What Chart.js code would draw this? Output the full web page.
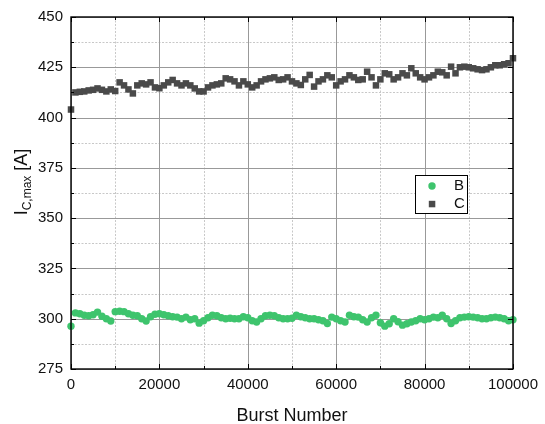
<!DOCTYPE html>
<html>
<head>
<meta charset="utf-8">
<script src="https://cdn.jsdelivr.net/npm/chart.js@4"></script>
<style>
  body { margin: 0; background: #fff; }
</style>
</head>
<body>
<canvas id="chart" width="545" height="424"></canvas>
<script>
// data
const burst = [
  0, 1000, 2000, 3000, 4000, 5000, 6000, 7000, 8000, 9000,
  10000, 11000, 12000, 13000, 14000, 15000, 16000, 17000, 18000, 19000,
  20000, 21000, 22000, 23000, 24000, 25000, 26000, 27000, 28000, 29000,
  30000, 31000, 32000, 33000, 34000, 35000, 36000, 37000, 38000, 39000,
  40000, 41000, 42000, 43000, 44000, 45000, 46000, 47000, 48000, 49000,
  50000, 51000, 52000, 53000, 54000, 55000, 56000, 57000, 58000, 59000,
  60000, 61000, 62000, 63000, 64000, 65000, 66000, 67000, 68000, 69000,
  70000, 71000, 72000, 73000, 74000, 75000, 76000, 77000, 78000, 79000,
  80000, 81000, 82000, 83000, 84000, 85000, 86000, 87000, 88000, 89000,
  90000, 91000, 92000, 93000, 94000, 95000, 96000, 97000, 98000, 99000,
  100000
];

const seriesB = [
  296.3, 302.9, 302.5, 301.7, 301.5, 302.0, 303.3, 301.2, 300.0, 298.9,
  303.5, 303.7, 303.5, 302.5, 301.7, 301.5, 300.0, 298.9, 301.0, 302.2,
  302.5, 302.0, 301.5, 301.0, 300.8, 300.0, 300.8, 299.5, 300.0, 297.8,
  299.0, 300.5, 301.7, 301.5, 300.5, 300.0, 300.2, 300.0, 300.0, 301.0,
  300.5, 299.0, 298.4, 300.0, 301.5, 301.7, 301.5, 300.5, 300.0, 300.0,
  300.2, 301.7, 301.0, 300.5, 300.0, 300.0, 299.5, 299.0, 297.6, 300.8,
  300.0, 299.0, 298.4, 301.7, 301.0, 300.8, 299.5, 298.4, 300.5, 301.7,
  298.0, 296.3, 297.5, 300.0, 298.5, 296.8, 297.5, 298.4, 299.0, 300.0,
  299.5, 300.0, 300.8, 300.5, 301.7, 300.0, 297.6, 299.0, 300.5, 300.8,
  301.0, 300.8, 300.5, 300.0, 300.0, 300.5, 300.8, 300.5, 300.0, 299.0,
  299.5
];

const seriesC = [
  404.0, 412.5, 412.8, 413.0, 413.5, 413.8, 414.5, 413.8, 413.0, 414.0,
  413.2, 417.5, 416.0, 414.0, 412.0, 416.0, 417.0, 416.5, 417.5, 415.0,
  414.6, 416.0, 417.5, 418.7, 417.0, 416.0, 417.0, 416.0, 414.5, 413.0,
  413.0, 415.0, 416.0, 416.5, 417.0, 419.5, 419.0, 418.0, 416.0, 418.0,
  416.5, 415.0, 416.0, 418.0, 419.0, 419.5, 420.0, 418.7, 419.0, 420.0,
  418.0, 417.0, 416.2, 419.0, 421.2, 415.4, 418.0, 419.0, 421.0, 420.0,
  416.0, 418.0, 419.0, 421.0, 420.0, 418.7, 419.0, 422.8, 420.0, 416.0,
  419.0, 422.0, 421.5, 419.0, 420.0, 422.0, 421.0, 424.5, 422.0, 420.0,
  419.0, 420.0, 421.0, 422.8, 422.5, 421.0, 425.3, 422.0, 425.0, 425.3,
  425.0, 424.5, 424.0, 423.6, 424.0, 425.0, 426.0, 426.0, 426.5, 427.0,
  429.5
];

const xTickLabels = [0, 20000, 40000, 60000, 80000, 100000];
const yTickLabels = [275, 300, 325, 350, 375, 400, 425, 450];
const seriesNames = ['B', 'C'];

const GREEN = '#3ec46d';
const DARK = '#4a4a4a';
const FONT = '"Liberation Sans", Arial, sans-serif';

// grid, frame, inward ticks, legend box and axis titles
const framePlugin = {
  id: 'frame',
  beforeDatasetsDraw(chart) {
    const { ctx, chartArea: a, scales: { x, y } } = chart;
    ctx.save();
    ctx.lineWidth = 1;
    // minor grid (dotted)
    ctx.strokeStyle = '#c8c8c8';
    ctx.setLineDash([2, 1.5]);
    x.ticks.forEach(t => {
      if (xTickLabels.includes(t.value)) return;
      const px = Math.round(x.getPixelForValue(t.value)) + 0.5;
      ctx.beginPath(); ctx.moveTo(px, a.top); ctx.lineTo(px, a.bottom); ctx.stroke();
    });
    y.ticks.forEach(t => {
      if (yTickLabels.includes(t.value)) return;
      const py = Math.round(y.getPixelForValue(t.value)) + 0.5;
      ctx.beginPath(); ctx.moveTo(a.left, py); ctx.lineTo(a.right, py); ctx.stroke();
    });
    // major grid (solid)
    ctx.setLineDash([]);
    ctx.strokeStyle = '#999';
    x.ticks.forEach(t => {
      if (!xTickLabels.includes(t.value)) return;
      const px = Math.round(x.getPixelForValue(t.value)) + 0.5;
      ctx.beginPath(); ctx.moveTo(px, a.top); ctx.lineTo(px, a.bottom); ctx.stroke();
    });
    y.ticks.forEach(t => {
      if (!yTickLabels.includes(t.value)) return;
      const py = Math.round(y.getPixelForValue(t.value)) + 0.5;
      ctx.beginPath(); ctx.moveTo(a.left, py); ctx.lineTo(a.right, py); ctx.stroke();
    });
    ctx.restore();
  },
  afterDatasetsDraw(chart) {
    const { ctx, chartArea: a, scales: { x, y } } = chart;
    ctx.save();
    ctx.strokeStyle = '#000';
    ctx.lineWidth = 1.4;
    ctx.strokeRect(a.left, a.top, a.right - a.left, a.bottom - a.top);

    // inward tick marks on all four sides
    ctx.lineWidth = 1;
    x.ticks.forEach(t => {
      const len = xTickLabels.includes(t.value) ? 5 : 3;
      const px = Math.round(x.getPixelForValue(t.value)) + 0.5;
      ctx.beginPath();
      ctx.moveTo(px, a.bottom); ctx.lineTo(px, a.bottom - len);
      ctx.moveTo(px, a.top); ctx.lineTo(px, a.top + len);
      ctx.stroke();
    });
    y.ticks.forEach(t => {
      const len = yTickLabels.includes(t.value) ? 5 : 3;
      const py = Math.round(y.getPixelForValue(t.value)) + 0.5;
      ctx.beginPath();
      ctx.moveTo(a.left, py); ctx.lineTo(a.left + len, py);
      ctx.moveTo(a.right, py); ctx.lineTo(a.right - len, py);
      ctx.stroke();
    });

    // legend box
    ctx.fillStyle = '#fff';
    ctx.fillRect(415, 175, 52, 38);
    ctx.strokeStyle = '#000';
    ctx.lineWidth = 1;
    ctx.strokeRect(415.5, 175.5, 52, 38);
    ctx.fillStyle = GREEN;
    ctx.beginPath(); ctx.arc(432, 186, 3.7, 0, Math.PI * 2); ctx.fill();
    ctx.fillStyle = DARK;
    ctx.fillRect(428.8, 200.8, 6.5, 6.5);
    ctx.fillStyle = '#111';
    ctx.font = '15px ' + FONT;
    ctx.textBaseline = 'middle';
    ctx.textAlign = 'left';
    ctx.fillText(seriesNames[0], 454, 186);
    ctx.fillText(seriesNames[1], 454, 204);

    // x title
    ctx.textAlign = 'center';
    ctx.textBaseline = 'alphabetic';
    ctx.font = '18px ' + FONT;
    ctx.fillText('Burst Number', (a.left + a.right) / 2, 421);

    // y title with subscript
    ctx.translate(27, 182);
    ctx.rotate(-Math.PI / 2);
    const big = '18px ' + FONT, small = '12px ' + FONT;
    ctx.font = big; const w1 = ctx.measureText('I').width;
    ctx.font = small; const w2 = ctx.measureText('C,max').width;
    ctx.font = big; const w3 = ctx.measureText(' [A]').width;
    let cx = -(w1 + w2 + w3) / 2;
    ctx.textAlign = 'left';
    ctx.font = big; ctx.fillText('I', cx, 0); cx += w1;
    ctx.font = small; ctx.fillText('C,max', cx, 3.5); cx += w2;
    ctx.font = big; ctx.fillText(' [A]', cx, 0);
    ctx.restore();
  }
};

const ctx = document.getElementById('chart').getContext('2d');

new Chart(ctx, {
  type: 'scatter',
  data: {
    datasets: [
      {
        label: seriesNames[0],
        data: burst.map((b, i) => ({ x: b, y: seriesB[i] })),
        pointStyle: 'circle',
        pointRadius: 3.7,
        pointHoverRadius: 3.7,
        backgroundColor: GREEN,
        borderWidth: 0,
        clip: false
      },
      {
        label: seriesNames[1],
        data: burst.map((b, i) => ({ x: b, y: seriesC[i] })),
        pointStyle: 'rect',
        pointRadius: 4.6,
        pointHoverRadius: 4.6,
        backgroundColor: DARK,
        borderWidth: 0,
        clip: false
      }
    ]
  },
  options: {
    responsive: false,
    animation: false,
    devicePixelRatio: 1,
    layout: { padding: { top: 15, right: 31, left: 0, bottom: 0 } },
    plugins: {
      legend: { display: false },
      tooltip: { enabled: false }
    },
    scales: {
      x: {
        type: 'linear',
        min: 0,
        max: 100000,
        afterFit: (s) => { s.height = 55; },
        grid: { display: false, drawTicks: false },
        border: { display: false },
        ticks: {
          stepSize: 10000,
          padding: 7,
          maxRotation: 0,
          autoSkip: false,
          color: '#111',
          font: { family: FONT, size: 15 },
          callback: (v) => xTickLabels.includes(v) ? String(v) : ''
        }
      },
      y: {
        min: 275,
        max: 450,
        afterFit: (s) => { s.width = 71; },
        grid: { display: false, drawTicks: false },
        border: { display: false },
        ticks: {
          stepSize: 12.5,
          padding: 8,
          autoSkip: false,
          color: '#111',
          font: { family: FONT, size: 15 },
          callback: (v) => yTickLabels.includes(v) ? String(v) : ''
        }
      }
    }
  },
  plugins: [framePlugin]
});
</script>
</body>
</html>
